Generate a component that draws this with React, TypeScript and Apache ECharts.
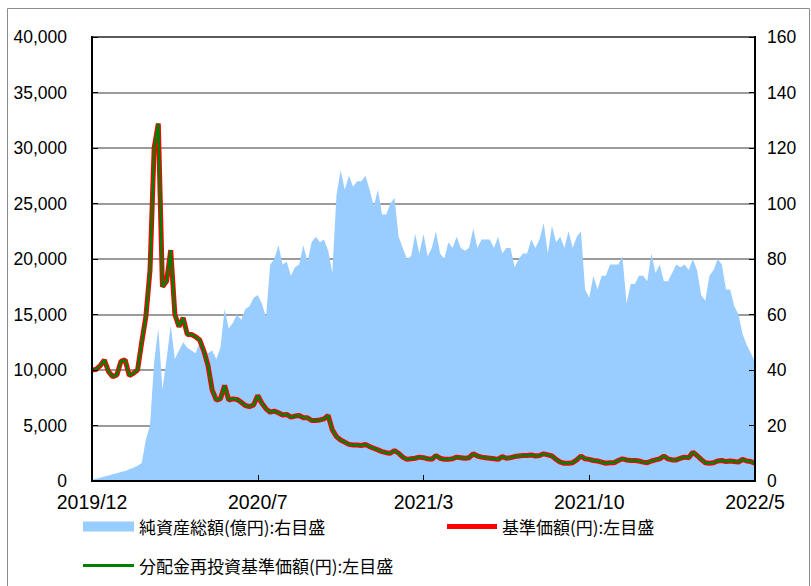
import React, { useEffect, useRef } from 'react';
import * as echarts from 'echarts';

// x-axis tick labels (shown every 40 points)
const tickLabels = ['2019/12', '2020/7', '2021/3', '2021/10', '2022/5'];

// 純資産総額 (億円) – right axis
const netAssets = [
  0.5, 0.8, 1.2, 1.6, 2.0, 2.4, 2.8, 3.2, 3.6, 4.2,
  4.8, 5.5, 6.5, 15, 20, 43, 55, 33, 44, 56,
  44, 47, 50, 48, 47, 46, 50, 47, 46, 47,
  44, 48, 62, 55, 57, 60, 58, 62, 63, 66,
  67, 64, 59, 78, 80, 85, 78, 79, 74, 77,
  78, 85, 79, 86, 88, 86, 87, 83, 75, 103,
  112, 105, 110, 106, 108, 108, 110, 105, 99, 105,
  96, 96, 100, 102, 88, 84, 80, 81, 89, 82,
  89, 81, 84, 90, 82, 80, 86, 84, 88, 84,
  83, 84, 91, 84, 87, 87, 87, 84, 88, 82,
  84, 84, 77, 80, 82, 82, 87, 84, 87, 93,
  82, 92, 86, 88, 84, 90, 84, 88, 90, 69,
  66, 74, 69, 74, 74, 78, 78, 78, 81, 64,
  71, 71, 74, 74, 72, 82, 75, 78, 72, 72,
  75, 78, 77, 78, 76, 80, 76, 67, 65, 74,
  76, 80, 78, 69, 69, 63, 60, 53, 49, 46,
  43,
];

// 基準価額 (円) – left axis
const nav = [
  10000, 10050, 10400, 10900, 9850, 9400, 9550, 10800, 10900, 9500,
  9700, 10000, 12500, 14800, 19000, 30000, 32200, 17500, 18000, 20800,
  15000, 13900, 14700, 13200, 13200, 13000, 12700, 11700, 10400, 8200,
  7300, 7400, 8600, 7300, 7400, 7350, 7100, 6800, 6700, 6850,
  7700, 7000, 6500, 6200, 6300, 6150, 5950, 6000, 5750, 5850,
  5900, 5700, 5700, 5450, 5450, 5500, 5600, 5900, 4600, 4000,
  3700, 3500, 3300, 3250, 3250, 3200, 3300, 3100, 2950, 2800,
  2650, 2550, 2500, 2750, 2500, 2150, 1950, 2000, 2050, 2150,
  2100, 2000, 1950, 2300, 2050, 1950, 1950, 2000, 2150, 2100,
  2050, 2100, 2450, 2250, 2150, 2100, 2050, 2000, 1950, 2200,
  2050, 2100, 2200, 2250, 2300, 2300, 2350, 2250, 2300, 2450,
  2350, 2250, 1950, 1700, 1600, 1600, 1650, 1900, 2250, 2000,
  1950, 1850, 1800, 1700, 1600, 1650, 1650, 1850, 2000, 1900,
  1850, 1850, 1800, 1700, 1650, 1800, 1900, 2000, 2250, 2000,
  1900, 1900, 2050, 2150, 2100, 2600, 2300, 1950, 1650, 1600,
  1650, 1800, 1850, 1750, 1800, 1750, 1700, 1950, 1800, 1750,
  1600,
];

// 分配金再投資基準価額 (円) – left axis (coincides with 基準価額)
const reinvestedNav = [
  10000, 10050, 10400, 10900, 9850, 9400, 9550, 10800, 10900, 9500,
  9700, 10000, 12500, 14800, 19000, 30000, 32200, 17500, 18000, 20800,
  15000, 13900, 14700, 13200, 13200, 13000, 12700, 11700, 10400, 8200,
  7300, 7400, 8600, 7300, 7400, 7350, 7100, 6800, 6700, 6850,
  7700, 7000, 6500, 6200, 6300, 6150, 5950, 6000, 5750, 5850,
  5900, 5700, 5700, 5450, 5450, 5500, 5600, 5900, 4600, 4000,
  3700, 3500, 3300, 3250, 3250, 3200, 3300, 3100, 2950, 2800,
  2650, 2550, 2500, 2750, 2500, 2150, 1950, 2000, 2050, 2150,
  2100, 2000, 1950, 2300, 2050, 1950, 1950, 2000, 2150, 2100,
  2050, 2100, 2450, 2250, 2150, 2100, 2050, 2000, 1950, 2200,
  2050, 2100, 2200, 2250, 2300, 2300, 2350, 2250, 2300, 2450,
  2350, 2250, 1950, 1700, 1600, 1600, 1650, 1900, 2250, 2000,
  1950, 1850, 1800, 1700, 1600, 1650, 1650, 1850, 2000, 1900,
  1850, 1850, 1800, 1700, 1650, 1800, 1900, 2000, 2250, 2000,
  1900, 1900, 2050, 2150, 2100, 2600, 2300, 1950, 1650, 1600,
  1650, 1800, 1850, 1750, 1800, 1750, 1700, 1950, 1800, 1750,
  1600,
];

const seriesNames = [
  '純資産総額(億円):右目盛',
  '基準価額(円):左目盛',
  '分配金再投資基準価額(円):左目盛',
];

const categories = nav.map((_, i) => String(i));

const numFont = "'Liberation Sans', Arial, sans-serif";
const jpFont = "'Noto Sans CJK JP', sans-serif";

export default function App() {
  const ref = useRef<HTMLDivElement>(null);

  useEffect(() => {
    if (!ref.current) return;
    const chart = echarts.init(ref.current, null, { renderer: 'svg' });
    const legendText = { fontSize: 17, fontFamily: jpFont, color: '#000' };
    chart.setOption({
      animation: false,
      backgroundColor: '#fff',
      grid: {
        left: 92,
        right: 56,
        top: 37,
        bottom: 105,
        show: true,
        borderColor: '#000',
        borderWidth: 2,
        backgroundColor: 'transparent',
      },
      graphic: [
        {
          type: 'rect',
          silent: true,
          z: -10,
          shape: { x: 7.5, y: 8.5, width: 802, height: 600 },
          style: { fill: 'none', stroke: '#8c8c8c', lineWidth: 1 },
        },
      ],
      legend: [
        {
          data: [seriesNames[0]],
          left: 83,
          top: 518,
          padding: 0,
          icon: 'rect',
          itemWidth: 51,
          itemHeight: 10,
          selectedMode: false,
          textStyle: legendText,
        },
        {
          data: [seriesNames[1]],
          left: 447,
          top: 518,
          padding: 0,
          icon: 'rect',
          itemWidth: 50,
          itemHeight: 5,
          selectedMode: false,
          textStyle: legendText,
        },
        {
          data: [seriesNames[2]],
          left: 83,
          top: 557,
          padding: 0,
          icon: 'rect',
          itemWidth: 51,
          itemHeight: 3,
          selectedMode: false,
          textStyle: legendText,
        },
      ],
      xAxis: {
        type: 'category',
        data: categories,
        boundaryGap: false,
        z: 10,
        axisLine: { show: true, lineStyle: { color: '#000', width: 2 } },
        axisTick: { show: true, inside: true, length: 6, interval: 39, lineStyle: { color: '#000', width: 1 } },
        axisLabel: {
          interval: 39,
          margin: 11,
          color: '#000',
          fontSize: 19.5,
          fontFamily: numFont,
          formatter: (_v: string, idx: number) => tickLabels[Math.round(idx / 40)] ?? '',
        },
        splitLine: { show: false },
      },
      yAxis: [
        {
          type: 'value',
          position: 'left',
          min: 0,
          max: 40000,
          interval: 5000,
          z: 10,
          axisLine: { show: true, lineStyle: { color: '#000', width: 2 } },
          axisTick: { show: true, inside: true, length: 6, lineStyle: { color: '#000', width: 1 } },
          axisLabel: {
            margin: 25,
            color: '#000',
            fontSize: 17.5,
            fontFamily: numFont,
            formatter: (v: number) => v.toLocaleString('en-US'),
          },
          splitLine: { show: false },
        },
        {
          type: 'value',
          position: 'right',
          min: 0,
          max: 160,
          interval: 20,
          z: 10,
          axisLine: { show: true, lineStyle: { color: '#000', width: 2 } },
          axisTick: { show: true, inside: true, length: 6, lineStyle: { color: '#000', width: 1 } },
          axisLabel: {
            margin: 12,
            color: '#000',
            fontSize: 17.5,
            fontFamily: numFont,
          },
          splitLine: { show: false },
        },
        {
          type: 'value',
          position: 'left',
          min: 0,
          max: 40000,
          interval: 5000,
          z: 0,
          axisLine: { show: false },
          axisTick: { show: false },
          axisLabel: { show: false },
          splitLine: { show: true, lineStyle: { color: '#7a7a7a', width: 1.5 } },
        },
      ],
      series: [
        {
          name: seriesNames[0],
          type: 'line',
          yAxisIndex: 1,
          data: netAssets,
          symbol: 'none',
          z: 1,
          lineStyle: { width: 0, color: '#99CCFF' },
          itemStyle: { color: '#99CCFF' },
          areaStyle: { color: '#99CCFF', opacity: 1 },
        },
        {
          name: seriesNames[1],
          type: 'line',
          yAxisIndex: 0,
          data: nav,
          symbol: 'none',
          z: 3,
          lineStyle: { width: 5, color: '#FF0000' },
          itemStyle: { color: '#FF0000' },
        },
        {
          name: seriesNames[2],
          type: 'line',
          yAxisIndex: 0,
          data: reinvestedNav,
          symbol: 'none',
          z: 4,
          lineStyle: { width: 2.5, color: '#008000' },
          itemStyle: { color: '#008000' },
        },
      ],
    });
    return () => chart.dispose();
  }, []);

  return (
    <div
      ref={ref}
      style={{ position: 'fixed', left: 0, top: 0, width: 811, height: 586, background: '#fff' }}
    />
  );
}
